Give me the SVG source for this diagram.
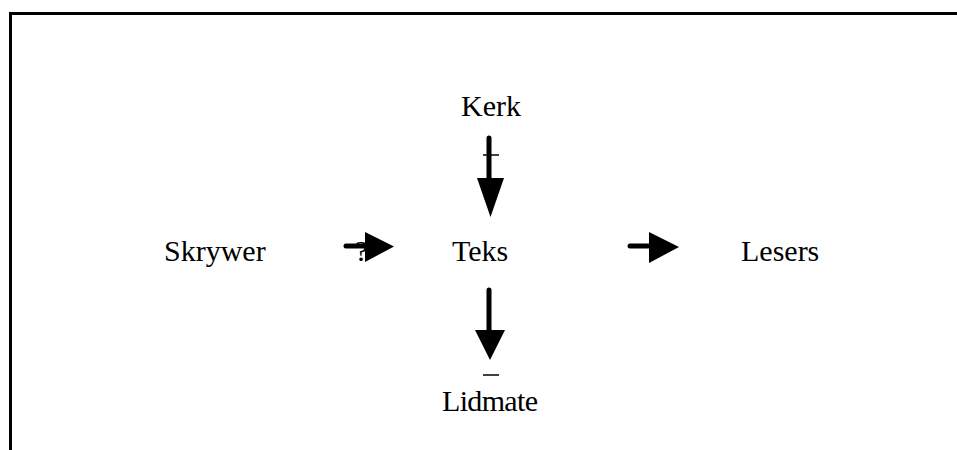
<svg xmlns="http://www.w3.org/2000/svg" width="957" height="450" viewBox="0 0 957 450">
<style>
text{font-family:'Liberation Serif','Times New Roman','DejaVu Serif',serif;font-size:30px;fill:#000}
.shaft{stroke:#000;stroke-width:5;stroke-linecap:round;fill:none}
.head{fill:#000}
.tick{stroke:#000;stroke-width:1.5}
.frame{stroke:#000;stroke-width:3;fill:none}
</style>
<rect width="957" height="450" fill="#fff"/>
<path class="frame" d="M10.5,450 V13.5 H957"/>
<g id="kerk"><text font-family="Liberation Serif, serif" x="461" y="115.5">Kerk</text></g>
<g id="skrywer"><text font-family="Liberation Serif, serif" x="164" y="261">Skrywer</text></g>
<g id="teks"><text font-family="Liberation Serif, serif" x="452" y="261">Teks</text></g>
<g id="lesers"><text font-family="Liberation Serif, serif" x="741" y="261">Lesers</text></g>
<g id="lidmate"><text font-family="Liberation Serif, serif" x="442" y="410.5" textLength="96">Lidmate</text></g>
<g id="connectors">
<text font-family="Liberation Serif, serif" x="355" y="261" font-size="28">?</text>
<line class="shaft" x1="346" y1="246" x2="368" y2="246"/>
<polygon class="head" points="365,232 394,246.5 365,262"/>
<line class="shaft" x1="630" y1="246" x2="652" y2="246"/>
<polygon class="head" points="649,232 679,247 649,263"/>
<line class="shaft" x1="489" y1="138" x2="489" y2="182"/>
<polygon class="head" points="477,178 504,178 490.5,217"/>
<line class="tick" x1="483" y1="155" x2="499" y2="155"/>
<line class="shaft" x1="489" y1="290" x2="489" y2="333"/>
<polygon class="head" points="475,330 505,330 490,360"/>
<line class="tick" x1="483" y1="375" x2="499" y2="375"/>
</g>
</svg>
